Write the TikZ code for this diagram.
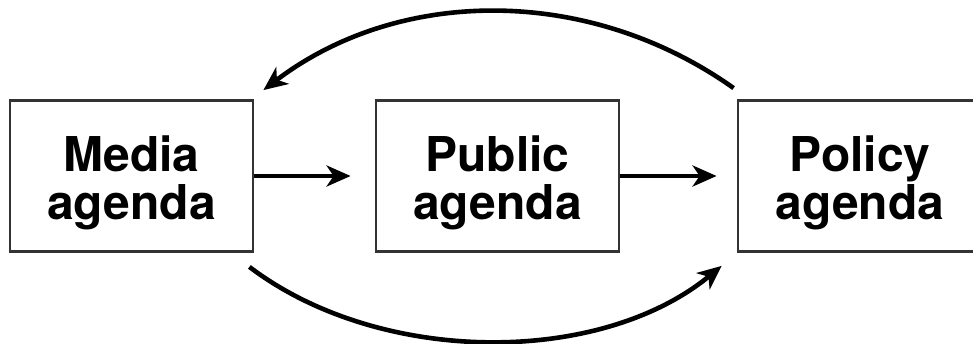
\documentclass[tikz,border=0pt]{standalone}
\usepackage{fontspec}
\setmainfont{TeX Gyre Heros}
\usetikzlibrary{arrows.meta}
\begin{document}
\begin{tikzpicture}[x=1pt,y=-1pt,
  agendabox/.style={draw=black!80,line width=2.8pt,minimum height=151pt,inner sep=0pt,align=center,
    font=\fontsize{48}{48}\selectfont\bfseries},
  flow/.style={line width=4.6pt,-{Stealth[length=24pt,width=21pt,inset=7pt]}}]
\useasboundingbox (0,0) rectangle (973,344);
\node[agendabox,minimum width=243pt] (media) at (131.5,176) {\rule{0pt}{50pt}Media\\agenda};
\node[agendabox,minimum width=243pt] (public) at (497.5,176) {\rule{0pt}{50pt}Public\\agenda};
\node[agendabox,minimum width=262pt,text width=262pt] (policy) at (869,176) {\hspace*{-18pt}\rule{0pt}{50pt}Policy\\\hspace*{-18pt}agenda};
\draw[flow] (media.east) -- ([xshift=-24pt]public.west);
\draw[flow] (public.east) -- ([xshift=-20pt]policy.west);
\coordinate (topstart) at ([shift={(-3,-11)}]policy.north west);
\coordinate (topend) at ([shift={(9,-9)}]media.north east);
\draw[flow] (topstart) .. controls (590,-14) and (400,-14) .. (topend);
\coordinate (botstart) at ([shift={(-5,14)}]media.south east);
\coordinate (botend) at ([shift={(-15,13)}]policy.south west);
\draw[flow] (botstart) .. controls (380,366) and (600,366) .. (botend);
\end{tikzpicture}
\end{document}
